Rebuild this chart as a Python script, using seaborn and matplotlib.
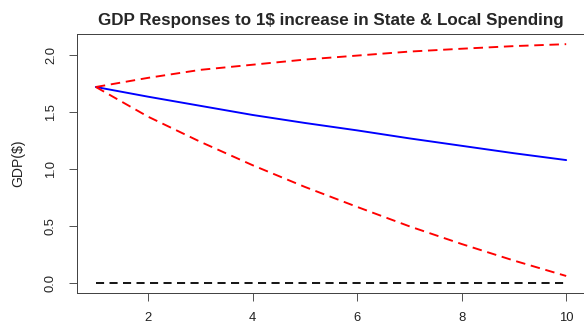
import matplotlib
matplotlib.use("Agg")
import matplotlib.pyplot as plt
import seaborn as sns
import pandas as pd
import numpy as np

sns.set_style("white")
plt.rcParams['font.family'] = ['Liberation Sans', 'DejaVu Sans']

horizon = [1, 2, 3, 4, 5, 6, 7, 8, 9, 10]
response = [1.72, 1.635, 1.555, 1.475, 1.405, 1.34, 1.27, 1.205, 1.14, 1.08]
upper = [1.72, 1.80, 1.87, 1.915, 1.96, 1.995, 2.03, 2.055, 2.078, 2.095]
lower = [1.72, 1.46, 1.24, 1.035, 0.845, 0.67, 0.50, 0.345, 0.20, 0.065]
zero = [0, 0, 0, 0, 0, 0, 0, 0, 0, 0]

df = pd.DataFrame({
    "h": horizon * 4,
    "v": response + upper + lower + zero,
    "s": ["resp"] * 10 + ["up"] * 10 + ["lo"] * 10 + ["zero"] * 10,
})

dpi = 72
fig = plt.figure(figsize=(584 / dpi, 328 / dpi), dpi=dpi)
ax = fig.add_axes([77 / 584, 35 / 328, 508 / 584, 259 / 328])

sns.lineplot(data=df[df.s == "zero"], x="h", y="v", ax=ax, color="black", lw=1.8,
             linestyle=(0, (4.5, 3)), estimator=None)
sns.lineplot(data=df[df.s == "resp"], x="h", y="v", ax=ax, color="blue", lw=1.9, estimator=None)
sns.lineplot(data=df[df.s == "up"], x="h", y="v", ax=ax, color="red", lw=1.9,
             linestyle=(0, (5, 3)), estimator=None)
sns.lineplot(data=df[df.s == "lo"], x="h", y="v", ax=ax, color="red", lw=1.9,
             linestyle=(0, (5, 3)), estimator=None)

ax.set_xlim(0.64, 10.36)
ax.set_ylim(-0.084, 2.184)
ax.set_xticks([2, 4, 6, 8, 10])
ax.set_yticks([0.0, 0.5, 1.0, 1.5, 2.0])
ax.set_yticklabels(["0.0", "0.5", "1.0", "1.5", "2.0"], rotation=90, va="center")
ax.tick_params(axis="both", which="both", direction="out", length=8, width=1,
               color="#555555", labelsize=13, labelcolor="#222222", left=True, bottom=True)
ax.tick_params(axis="x", pad=11)
ax.tick_params(axis="y", pad=12)
for sp in ["left", "top", "bottom", "right"]:
    ax.spines[sp].set_color("#444444")
    ax.spines[sp].set_linewidth(1)
ax.set_xlabel("")
ax.set_ylabel("GDP($)", fontsize=14, labelpad=20, color="#222222")
ax.set_title("GDP Responses to 1$ increase in State & Local Spending",
             fontsize=17, fontweight="bold", pad=9)

fig.savefig("out.png", dpi=dpi)
